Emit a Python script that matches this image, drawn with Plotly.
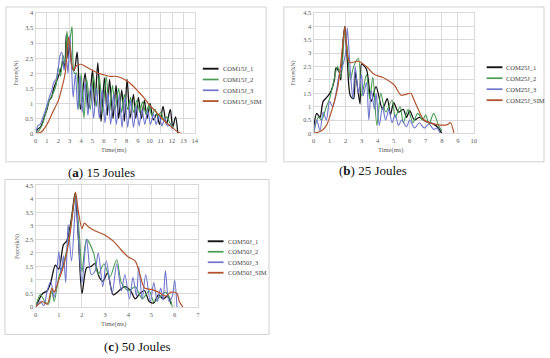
import plotly.graph_objects as go

# ---------------- DATA ----------------
# Panel (a) 15 Joules
a1_t = [0, 0.2, 0.4, 0.6, 0.8, 1.0, 1.2, 1.4, 1.6, 1.8, 2.0, 2.2, 2.4, 2.55, 2.7, 2.85, 3.0, 3.2, 3.4, 3.65, 3.95,
        4.35, 4.65, 5.0, 5.2, 5.47, 5.75, 6.05, 6.3, 6.5, 6.8, 7.07, 7.3, 7.57, 7.8, 8.04, 8.3, 8.6, 8.8, 9.04,
        9.3, 9.56, 9.8, 10.06, 10.35, 10.64, 10.9, 11.2, 11.5, 11.84, 12.05, 12.3, 12.5]
a1_v = [0.05, 0.15, 0.2, 0.35, 0.6, 0.8, 1.1, 1.2, 1.5, 1.7, 1.9, 2.1, 2.4, 2.2, 3.3, 2.5, 3.1, 2.2, 2.1, 2.7, 0.8,
        2.0, 0.8, 2.1, 0.9, 2.35, 0.4, 1.85, 0.6, 1.8, 0.5, 1.6, 0.5, 1.45, 0.4, 1.8, 0.5, 1.3, 0.5, 1.2,
        0.5, 1.1, 0.5, 1.0, 0.45, 0.65, 0.3, 0.9, 0.3, 0.8, 0.2, 0.55, 0.0]
a2_t = [0, 0.3, 0.6, 0.9, 1.2, 1.5, 1.8, 2.0, 2.2, 2.4, 2.6, 2.75, 2.9, 3.05, 3.2, 3.4, 3.6, 3.8, 4.0, 4.25, 4.5,
        4.8, 5.1, 5.35, 5.6, 5.9, 6.2, 6.5, 6.75, 7.0, 7.3, 7.55, 7.8, 8.1, 8.35, 8.6, 8.9, 9.15, 9.4, 9.7,
        9.95, 10.2, 10.5, 10.75, 11.0, 11.3, 11.55, 11.8, 12.1]
a2_v = [0.0, 0.1, 0.3, 0.7, 1.1, 1.3, 1.6, 2.2, 1.9, 2.6, 2.3, 3.4, 2.9, 3.2, 3.55, 2.0, 2.0, 0.8, 2.0, 0.5, 1.8,
        0.8, 1.9, 0.9, 1.9, 0.7, 1.9, 0.7, 1.6, 0.8, 1.5, 0.7, 1.3, 0.8, 1.2, 0.7, 1.1, 0.7, 1.05, 0.65,
        0.95, 0.6, 0.8, 0.55, 0.7, 0.45, 0.55, 0.35, 0.2]
a3_t = [0, 0.2, 0.4, 0.6, 0.8, 1.0, 1.2, 1.4, 1.6, 1.8, 2.0, 2.15, 2.3, 2.5, 2.7, 2.85, 3.0, 3.15, 3.3, 3.5, 3.7,
        3.9, 4.1, 4.35, 4.6, 4.85, 5.1, 5.35, 5.6, 5.85, 6.1, 6.35, 6.6, 6.85, 7.1, 7.35, 7.6, 7.85, 8.1,
        8.35, 8.6, 8.85, 9.1, 9.35, 9.6, 9.85, 10.1, 10.35, 10.6, 10.85, 11.1, 11.35, 11.6, 11.85, 12.0]
a3_v = [0.0, 0.25, 0.3, 0.5, 0.7, 0.95, 1.2, 1.4, 1.7, 1.8, 2.2, 2.6, 2.7, 2.1, 2.5, 2.0, 3.25, 2.3, 1.2, 2.0, 0.8,
        1.9, 0.7, 1.7, 0.6, 1.6, 0.5, 1.5, 0.5, 1.45, 0.35, 1.35, 0.3, 1.3, 0.3, 1.3, 0.2, 1.2, 0.2,
        1.1, 0.2, 0.9, 0.25, 0.8, 0.3, 0.75, 0.3, 0.65, 0.3, 0.6, 0.25, 0.5, 0.25, 0.3, 0.15]
as_t = [0, 0.5, 1.0, 1.5, 2.0, 2.3, 2.6, 2.9, 3.1, 3.3, 3.6, 4.0, 4.5, 5.0, 5.5, 6.0, 6.5, 7.0, 7.5, 8.0, 8.5,
        9.0, 9.5, 10.0, 10.5, 11.0, 11.5, 12.0, 12.5, 12.8]
as_v = [0.0, 0.05, 0.3, 0.7, 1.1, 1.5, 2.0, 3.2, 2.6, 2.1, 2.25, 2.3, 2.2, 2.1, 2.0, 1.95, 1.9, 1.9, 1.85, 1.75,
        1.6, 1.4, 1.2, 0.95, 0.75, 0.55, 0.35, 0.2, 0.05, 0.0]

# Panel (b) 25 Joules
b1_t = [0, 0.2, 0.4, 0.6, 0.9, 1.1, 1.3, 1.4, 1.6, 1.7, 1.85, 1.95, 2.1, 2.3, 2.5, 2.6, 2.9, 3.0, 3.3, 3.6, 3.9,
        4.3, 4.6, 4.8, 5.0, 5.3, 5.6, 5.8, 6.0, 6.3, 6.6, 7.0, 7.5, 7.8, 8.0]
b1_v = [0.2, 0.75, 0.6, 1.2, 1.4, 1.6, 2.0, 2.45, 2.3, 2.0, 3.5, 4.0, 2.8, 1.4, 1.3, 2.3, 1.1, 2.6, 2.4, 1.2, 1.75,
        0.9, 1.3, 0.7, 1.15, 0.8, 0.9, 0.6, 0.85, 0.5, 0.6, 0.45, 0.35, 0.2, 0.0]
b2_t = [0, 0.3, 0.5, 0.8, 1.0, 1.2, 1.5, 1.7, 1.95, 2.1, 2.3, 2.5, 2.8, 3.0, 3.3, 3.5, 3.7, 3.95, 4.2, 4.5, 4.9,
        5.1, 5.4, 5.6, 5.9, 6.2, 6.5, 6.8, 7.0, 7.2, 7.5, 7.8, 8.0]
b2_v = [0.0, 0.6, 0.5, 1.0, 1.3, 1.8, 2.5, 2.1, 3.8, 3.2, 2.0, 2.5, 2.8, 1.4, 2.2, 1.3, 2.1, 0.3, 1.5, 0.8, 1.25,
        0.6, 1.0, 0.4, 0.9, 0.4, 0.75, 0.5, 0.7, 0.35, 0.75, 0.3, 0.1]
b3_t = [0, 0.2, 0.4, 0.6, 0.8, 1.0, 1.2, 1.4, 1.6, 1.8, 2.0, 2.1, 2.3, 2.45, 2.6, 2.8, 3.0, 3.1, 3.3, 3.45, 3.6,
        3.8, 3.9, 4.1, 4.3, 4.5, 4.7, 4.9, 5.1, 5.3, 5.5, 5.8, 6.0, 6.3, 6.6, 6.9, 7.2, 7.5, 7.7, 7.9]
b3_v = [0.0, 0.5, 0.1, 0.8, 0.5, 1.2, 1.0, 1.5, 2.2, 2.5, 3.0, 3.95, 2.3, 1.3, 2.5, 1.5, 2.2, 1.4, 1.9, 0.5, 1.6,
        0.9, 1.5, 0.3, 1.0, 0.5, 0.9, 0.4, 0.7, 0.3, 0.5, 0.25, 0.5, 0.2, 0.4, 0.2, 0.35, 0.15, 0.2, 0.0]
bs_t = [0, 0.5, 0.8, 1.0, 1.5, 1.8, 1.95, 2.1, 2.27, 2.8, 3.3, 3.8, 4.3, 4.6, 5.05, 5.46, 6.08, 6.2, 6.5, 6.9,
        7.7, 8.35, 8.55, 8.76]
bs_v = [0.0, 0.1, 0.3, 0.6, 1.7, 3.2, 4.0, 3.0, 2.65, 2.7, 2.5, 2.2, 2.1, 2.0, 1.8, 1.43, 1.5, 1.35, 0.94, 0.5,
        0.33, 0.33, 0.4, 0.0]

# Panel (c) 50 Joules
c1_t = [0, 0.3, 0.5, 0.65, 0.85, 1.0, 1.2, 1.35, 1.55, 1.7, 1.85, 2.0, 2.2, 2.4, 2.55, 2.75, 2.9, 3.1, 3.35, 3.6,
        3.85, 4.1, 4.3, 4.5, 4.7, 4.9, 5.1, 5.3, 5.5, 5.7, 5.85]
c1_v = [0.0, 0.5, 0.6, 0.9, 1.55, 1.4, 2.3, 2.45, 3.3, 4.2, 2.5, 0.5, 1.45, 1.5, 1.6, 1.1, 0.95, 1.25, 0.45, 0.6,
        0.75, 0.6, 0.3, 0.5, 0.6, 0.2, 0.15, 0.45, 0.3, 0.4, 0.1]
c2_t = [0, 0.2, 0.4, 0.55, 0.7, 0.8, 1.0, 1.2, 1.45, 1.65, 1.72, 1.9, 2.0, 2.2, 2.5, 2.7, 2.95, 3.2, 3.5, 3.7,
        4.0, 4.3, 4.6, 4.9, 5.1, 5.4, 5.6, 5.8, 5.9]
c2_v = [0.0, 0.45, 0.2, 0.1, 0.6, 0.2, 1.1, 1.6, 2.6, 3.8, 4.2, 2.5, 1.3, 2.5, 2.0, 1.2, 1.6, 1.1, 1.75, 0.9,
        0.6, 0.75, 0.3, 0.6, 0.2, 0.4, 0.55, 0.3, 0.0]
c3_t = [0, 0.2, 0.35, 0.5, 0.65, 0.8, 1.0, 1.1, 1.2, 1.3, 1.4, 1.55, 1.75, 1.85, 2.0, 2.2, 2.4, 2.55, 2.7, 2.9,
        3.05, 3.3, 3.5, 3.7, 3.85, 4.05, 4.2, 4.35, 4.45, 4.6, 4.75, 4.95, 5.1, 5.25, 5.4, 5.5, 5.6, 5.75,
        5.9, 6.0, 6.1]
c3_v = [0.0, 0.2, 0.05, 0.6, 0.95, 0.35, 2.05, 1.2, 1.9, 0.9, 3.05, 1.7, 4.05, 2.5, 0.9, 2.5, 1.2, 1.3, 2.0, 0.75,
        1.7, 0.5, 1.6, 0.6, 1.2, 0.3, 1.1, 0.4, 1.5, 0.3, 1.2, 0.2, 0.9, 0.2, 0.7, 0.25, 1.35, 0.2,
        0.4, 1.0, 0.0]
cs_t = [0, 0.3, 0.5, 0.7, 0.8, 1.0, 1.2, 1.45, 1.6, 1.72, 1.85, 2.0, 2.1, 2.3, 2.6, 2.9, 3.1, 3.4, 3.7, 4.0,
        4.3, 4.5, 4.7, 5.0, 5.3, 5.6, 5.85, 6.1, 6.2, 6.35]
cs_v = [0.0, 0.2, 0.1, 0.7, 0.55, 1.0, 1.5, 2.5, 3.5, 4.25, 3.5, 2.9, 3.1, 2.95, 2.8, 2.7, 2.6, 2.4, 2.1, 1.85,
        1.7, 1.2, 0.7, 0.65, 0.55, 0.4, 0.55, 0.5, 0.2, 0.0]

a_names = ["COM15J_1", "COM15J_2", "COM15J_3", "COM15J_SIM"]
b_names = ["COM25J_1", "COM25J_2", "COM25J_3", "COM25J_SIM"]
c_names = ["COM50J_1", "COM50J_2", "COM50J_3", "COM50J_SIM"]
captions = ["(<b>a</b>) 15 Joules", "(<b>b</b>) 25 Joules", "(<b>c</b>) 50 Joules"]

# ---------------- STYLE / LAYOUT ----------------
W, H = 550, 358
colors = ["#141414", "#4a9c55", "#6f76cc", "#b2532e"]
widths = [1.3, 1.1, 1.1, 1.2]
SERIF = "Liberation Serif"
GRID = "#d9d9d9"

def fx(x):
    return x / W

def fy(y):
    return 1 - y / H

panels = [
    dict(series=[(a1_t, a1_v), (a2_t, a2_v), (a3_t, a3_v), (as_t, as_v)], names=a_names,
         xr=[0, 14], yr=[0, 4], plot=(34, 195, 9.3, 132), box=(4, 267, 3, 161),
         leg=(203, 66, 11), cap=(101, 172), xt=(113, 149), yt=(15, 70)),
    dict(series=[(b1_t, b1_v), (b2_t, b2_v), (b3_t, b3_v), (bs_t, bs_v)], names=b_names,
         xr=[0, 10], yr=[0, 4.5], plot=(315, 477, 9.3, 132), box=(285, 548, 3, 161),
         leg=(490, 64.5, 11.2), cap=(375, 170), xt=(393, 149), yt=(295, 70)),
    dict(series=[(c1_t, c1_v), (c2_t, c2_v), (c3_t, c3_v), (cs_t, cs_v)], names=c_names,
         xr=[0, 7], yr=[0, 4.5], plot=(34, 198, 185, 309), box=(3, 270, 179, 337),
         leg=(208, 242, 10.7), cap=(136, 349), xt=(113, 326), yt=(15, 247)),
]

fig = go.Figure()
shapes = []
annotations = []
layout_axes = {}

for i, p in enumerate(panels):
    n = "" if i == 0 else str(i + 1)
    xa, ya = "x" + n, "y" + n
    for k, (t, v) in enumerate(p["series"]):
        fig.add_trace(go.Scatter(x=t, y=v, mode="lines", name=p["names"][k], xaxis=xa, yaxis=ya,
                                 line=dict(color=colors[k], width=widths[k], shape="spline", smoothing=0.8),
                                 showlegend=False, hoverinfo="skip"))
    x0, x1, y0, y1 = p["plot"]
    common = dict(showgrid=True, gridcolor=GRID, gridwidth=1, zeroline=False, showline=True,
                  linecolor=GRID, mirror=True, ticks="", fixedrange=True,
                  tickfont=dict(family=SERIF, size=6.5, color="#595959"))
    layout_axes["xaxis" + n] = dict(common, domain=[fx(x0), fx(x1)], range=p["xr"], dtick=1,
                                    anchor=ya, ticklabelstandoff=1)
    layout_axes["yaxis" + n] = dict(common, domain=[fy(y1), fy(y0)], range=p["yr"], dtick=0.5,
                                    anchor=xa)
    bx0, bx1, by0, by1 = p["box"]
    shapes.append(dict(type="rect", xref="paper", yref="paper", x0=fx(bx0), x1=fx(bx1),
                       y0=fy(by1), y1=fy(by0), line=dict(color="#d0d0d0", width=1)))
    lx, ly, dy = p["leg"]
    for k, name in enumerate(p["names"]):
        yy = ly + k * dy
        shapes.append(dict(type="line", xref="paper", yref="paper", x0=fx(lx), x1=fx(lx + 16),
                           y0=fy(yy), y1=fy(yy), line=dict(color=colors[k], width=widths[k] + 0.6)))
        annotations.append(dict(text=name, xref="paper", yref="paper", x=fx(lx + 18), y=fy(yy),
                                xanchor="left", yanchor="middle", showarrow=False,
                                font=dict(family=SERIF, size=6.5, color="#404040")))
    annotations.append(dict(text="Time(ms)", xref="paper", yref="paper", x=fx(p["xt"][0]), y=fy(p["xt"][1]),
                            xanchor="center", yanchor="middle", showarrow=False,
                            font=dict(family=SERIF, size=6.5, color="#595959")))
    annotations.append(dict(text="Force(kN)", xref="paper", yref="paper", x=fx(p["yt"][0]), y=fy(p["yt"][1]),
                            xanchor="center", yanchor="middle", showarrow=False, textangle=-90,
                            font=dict(family=SERIF, size=6, color="#595959")))
    annotations.append(dict(text=captions[i], xref="paper", yref="paper", x=fx(p["cap"][0]), y=fy(p["cap"][1]),
                            xanchor="center", yanchor="middle", showarrow=False,
                            font=dict(family=SERIF, size=13, color="#111111")))

fig.update_layout(width=W, height=H, margin=dict(l=0, r=0, t=0, b=0),
                  paper_bgcolor="white", plot_bgcolor="white", showlegend=False,
                  shapes=shapes, annotations=annotations, **layout_axes)

fig.write_html("out.html", config={"displayModeBar": False},
               post_script="document.body.style.margin='0';document.body.style.padding='0';"
                           "document.body.style.overflow='hidden';")
